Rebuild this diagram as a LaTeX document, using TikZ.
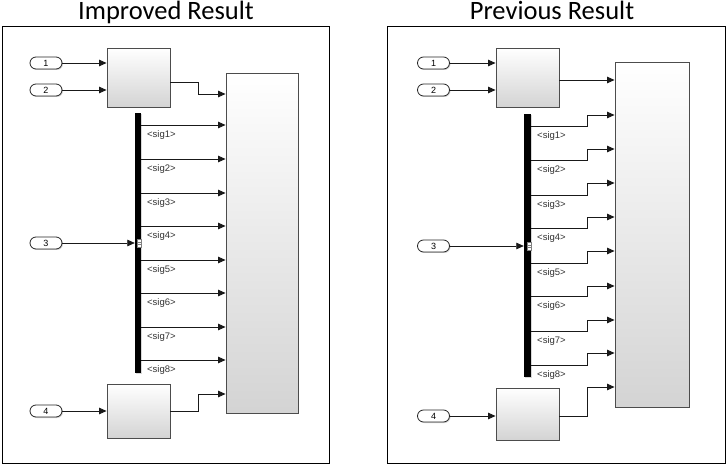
\documentclass[tikz,border=0pt]{standalone}
\usepackage{fontspec}
\setmainfont{Liberation Sans}
\newfontfamily\titlefont{Carlito}
\usetikzlibrary{shapes.misc,shadows,arrows.meta}
\begin{document}
\begin{tikzpicture}[x=1pt,y=-1pt,
  blk/.style={draw=black!70, line width=0.9pt, top color=white, bottom color=black!17,
    drop shadow={shadow xshift=1.2pt, shadow yshift=-1.2pt, opacity=0.35}, inner sep=0pt},
  port/.style={draw=black!85, line width=0.8pt, rounded rectangle, fill=white,
    minimum width=32pt, minimum height=12pt, inner sep=0pt, font=\fontsize{9}{9}\selectfont,
    drop shadow={shadow xshift=1pt, shadow yshift=-1pt, opacity=0.35}},
  sig/.style={draw=black!90, line width=0.75pt, -{Triangle[length=7.5pt,width=6.5pt]}},
  bus/.style={fill=black, draw=none,
    drop shadow={shadow xshift=1pt, shadow yshift=-1pt, opacity=0.3}},
  frame/.style={draw=black, line width=0.8pt, fill=white},
  lbl/.style={font=\fontsize{9.5}{9.5}\selectfont, text=black!80, inner sep=0pt, anchor=west},
  ttl/.style={font=\titlefont\fontsize{26.5}{26.5}\selectfont, inner sep=0pt, anchor=base},
  portmark/.style={fill=white, draw=black!50, line width=0.3pt}
]
\useasboundingbox (0,0) rectangle (726,465);
\fill[white] (0,0) rectangle (726,465);

% ================= LEFT: Improved Result =================
\node[ttl] (t1) at (166,20) {Improved Result};
\draw[frame] (2,26) rectangle (329,463);

\node[port] (Lin1) at (46,63) {1};
\node[port] (Lin2) at (46,90) {2};
\node[port] (Lin3) at (46,243) {3};
\node[port] (Lin4) at (46,411) {4};

\node[blk, minimum width=63pt, minimum height=59pt] (LA) at (138.5,77.5) {};
\node[blk, minimum width=72pt, minimum height=340pt] (LB) at (262,243) {};
\node[blk, minimum width=63pt, minimum height=54pt] (LC) at (138.5,411) {};
\node[bus, minimum width=6pt, minimum height=260pt, inner sep=0pt] (Lbus) at (138,243) {};

\draw[sig] (Lin1.east) -- (LA.west |- Lin1.east);
\draw[sig] (Lin2.east) -- (LA.west |- Lin2.east);
\draw[sig] (Lin4.east) -- (LC.west |- Lin4.east);
\draw[sig] (Lin3.east) -- (Lbus.west |- Lin3.east);
\draw[portmark] (137,239) rectangle (141,247);
\draw[black!50, line width=0.3pt] (137,241.7) -- (141,241.7) (137,244.3) -- (141,244.3);

\coordinate (LAo) at (170,82);
\coordinate (LCo) at (170,411);
\draw[sig] (LAo) -- (198,82) -- (198,94) -- (LB.west |- 0,94);
\draw[sig] (LCo) -- (198,411) -- (198,394) -- (LB.west |- 0,394);

\foreach \i/\y in {1/125,2/159,3/193,4/226,5/260,6/293,7/327,8/360}{
  \coordinate (Ls\i) at (141,\y);
  \draw[sig] (Ls\i) -- (LB.west |- Ls\i);
  \node[lbl] (Ll\i) at (147,\y+10) {<sig\i>};
}

% ================= RIGHT: Previous Result =================
\node[ttl] (t2) at (552,20) {Previous Result};
\draw[frame] (387,26) rectangle (725,463);

\node[port] (Rin1) at (433.5,63) {1};
\node[port] (Rin2) at (433.5,90) {2};
\node[port] (Rin3) at (433.5,246) {3};
\node[port] (Rin4) at (433.5,416) {4};

\node[blk, minimum width=63pt, minimum height=59pt] (RA) at (527.5,77.5) {};
\node[blk, minimum width=74pt, minimum height=345pt] (RB) at (652,234.5) {};
\node[blk, minimum width=63pt, minimum height=52pt] (RC) at (527.5,414) {};
\node[bus, minimum width=7pt, minimum height=263pt, inner sep=0pt] (Rbus) at (527.5,245.5) {};

\draw[sig] (Rin1.east) -- (RA.west |- Rin1.east);
\draw[sig] (Rin2.east) -- (RA.west |- Rin2.east);
\draw[sig] (Rin4.east) -- (RC.west |- Rin4.east);
\draw[sig] (Rin3.east) -- (Rbus.west |- Rin3.east);
\draw[portmark] (527,242) rectangle (531,250);
\draw[black!50, line width=0.3pt] (527,244.7) -- (531,244.7) (527,247.3) -- (531,247.3);

\coordinate (RAo) at (559,80);
\coordinate (RCo) at (559,416);
\draw[sig] (RAo) -- (RB.west |- RAo);
\draw[sig] (RCo) -- (587,416) -- (587,387) -- (RB.west |- 0,387);

\foreach \i/\y/\h in {1/126/115,2/160/149,3/195/183,4/228/217,5/263/251,6/296/286,7/331/320,8/365/353}{
  \coordinate (Rs\i) at (531,\y);
  \draw[sig] (Rs\i) -- (587,\y) -- (587,\h) -- (RB.west |- 0,\h);
  \node[lbl] (Rl\i) at (537,\y+10) {<sig\i>};
}
\end{tikzpicture}
\end{document}
